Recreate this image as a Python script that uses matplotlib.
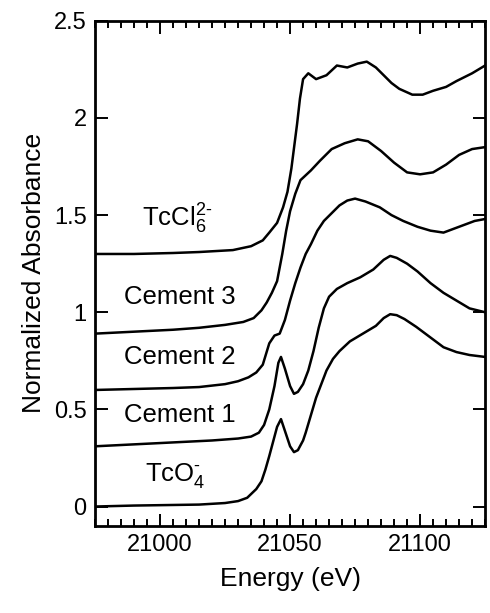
import matplotlib
matplotlib.use("Agg")
import matplotlib.pyplot as plt
from matplotlib.ticker import MultipleLocator

plt.rcParams['font.family'] = ['Liberation Sans', 'DejaVu Sans']
plt.rcParams['mathtext.fontset'] = 'custom'
plt.rcParams['mathtext.rm'] = 'Liberation Sans'
plt.rcParams['mathtext.it'] = 'Liberation Sans'

# spectra (already offset vertically)
e_tco4 = [20975, 20990, 21005, 21015, 21025, 21030, 21033.5, 21037, 21039, 21040.5,
          21042, 21043, 21045, 21046.5, 21048, 21050, 21051.5, 21053, 21055, 21056,
          21058, 21060, 21062, 21064, 21066.5, 21069, 21073, 21078, 21083, 21086,
          21088.5, 21091, 21094, 21098.5, 21104, 21109, 21114, 21119, 21125]
a_tco4 = [0.00, 0.005, 0.008, 0.01, 0.018, 0.028, 0.045, 0.09, 0.13, 0.19,
          0.26, 0.31, 0.41, 0.45, 0.39, 0.31, 0.28, 0.29, 0.34, 0.38,
          0.47, 0.56, 0.63, 0.70, 0.76, 0.80, 0.85, 0.89, 0.93, 0.97,
          0.99, 0.985, 0.965, 0.925, 0.87, 0.82, 0.795, 0.78, 0.77]

e_cem1 = [20975, 20990, 21005, 21020, 21030, 21035, 21038, 21040, 21042, 21044,
          21045.5, 21046.5, 21048, 21050, 21051.5, 21053, 21055, 21057, 21059, 21061,
          21063, 21065, 21068, 21072, 21077, 21082, 21086, 21088.5, 21091, 21095,
          21099, 21104, 21109, 21114, 21119, 21125]
a_cem1 = [0.31, 0.32, 0.33, 0.34, 0.35, 0.36, 0.38, 0.42, 0.50, 0.62,
          0.74, 0.77, 0.71, 0.62, 0.58, 0.59, 0.63, 0.70, 0.80, 0.92,
          1.02, 1.08, 1.12, 1.15, 1.18, 1.22, 1.27, 1.29, 1.28, 1.25,
          1.21, 1.15, 1.10, 1.06, 1.02, 1.00]

e_cem2 = [20975, 20990, 21005, 21015, 21025, 21030, 21034, 21037, 21039.5, 21042,
          21044, 21046, 21048, 21050, 21052, 21054, 21056, 21058, 21060.5, 21063,
          21066, 21069, 21072, 21075, 21079, 21084.5, 21089, 21093.5, 21099, 21104,
          21109, 21113, 21117, 21121, 21125]
a_cem2 = [0.60, 0.605, 0.61, 0.615, 0.63, 0.645, 0.665, 0.69, 0.73, 0.84,
          0.88, 0.89, 0.96, 1.06, 1.15, 1.23, 1.30, 1.35, 1.42, 1.47,
          1.51, 1.55, 1.575, 1.585, 1.57, 1.54, 1.50, 1.47, 1.44, 1.42,
          1.41, 1.43, 1.45, 1.47, 1.48]

e_cem3 = [20975, 20990, 21005, 21015, 21025, 21032, 21036, 21039, 21041, 21043,
          21045, 21047, 21048.5, 21050, 21052, 21054, 21058, 21061.5, 21066, 21071,
          21076, 21080, 21085, 21090, 21095, 21100, 21105, 21110, 21115, 21120, 21125]
a_cem3 = [0.89, 0.90, 0.91, 0.92, 0.935, 0.95, 0.97, 1.01, 1.05, 1.10,
          1.16, 1.30, 1.42, 1.52, 1.61, 1.68, 1.73, 1.78, 1.84, 1.87,
          1.89, 1.88, 1.83, 1.77, 1.72, 1.71, 1.72, 1.76, 1.81, 1.84, 1.85]

e_tccl6 = [20975, 20990, 21005, 21015, 21028, 21035, 21039.5, 21042, 21045, 21047.3,
           21049, 21050.5, 21052.7, 21053.8, 21055, 21057, 21060, 21064, 21068, 21072,
           21076, 21079.5, 21083, 21086, 21089, 21092, 21097, 21101, 21105, 21110,
           21114, 21120, 21125]
a_tccl6 = [1.30, 1.30, 1.305, 1.31, 1.32, 1.34, 1.37, 1.41, 1.46, 1.54,
           1.62, 1.74, 1.97, 2.10, 2.20, 2.23, 2.20, 2.22, 2.27, 2.26,
           2.28, 2.29, 2.26, 2.22, 2.18, 2.15, 2.12, 2.12, 2.14, 2.16,
           2.19, 2.23, 2.27]

labels = ['TcO$_4^{\u2010}$', 'Cement 1', 'Cement 2', 'Cement 3',
          'TcCl$_6^{2\u2010}$']
label_x = [21005.8, 21007.5, 21007.5, 21007.5, 21006.5]
label_y = [0.16, 0.47, 0.77, 1.08, 1.48]

fig = plt.figure(figsize=(4.9, 6.13), dpi=100)
ax = fig.add_axes([0.194, 0.142, 0.796, 0.824])

for e, a in [(e_tco4, a_tco4), (e_cem1, a_cem1), (e_cem2, a_cem2),
             (e_cem3, a_cem3), (e_tccl6, a_tccl6)]:
    ax.plot(e, a, color='black', lw=1.8, solid_joinstyle='round')

for t, x, y in zip(labels, label_x, label_y):
    ax.text(x, y, t, fontsize=18.5, ha='center', va='center')

ax.set_xlim(20975, 21125)
ax.set_ylim(-0.1, 2.5)
ax.xaxis.set_major_locator(MultipleLocator(50))
ax.xaxis.set_minor_locator(MultipleLocator(5))
ax.set_yticks([0, 0.5, 1, 1.5, 2, 2.5])
ax.set_yticklabels(['0', '0.5', '1', '1.5', '2', '2.5'])
ax.tick_params(which='both', direction='in', top=True, right=True,
               labelsize=17, width=1.4)
ax.tick_params(which='major', length=9, pad=6)
ax.tick_params(which='minor', length=5)
for s in ax.spines.values():
    s.set_linewidth(2)

ax.set_xlabel('Energy (eV)', fontsize=19, labelpad=8)
ax.set_ylabel('Normalized Absorbance', fontsize=19, labelpad=6)

fig.savefig('out.png', dpi=100)
